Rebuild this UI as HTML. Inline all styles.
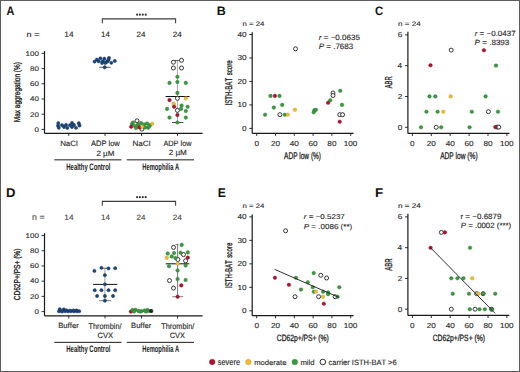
<!DOCTYPE html>
<html><head><meta charset="utf-8"><style>
html,body{margin:0;padding:0;background:#fff;}
svg{display:block;}
text{font-family:"Liberation Sans", sans-serif;text-rendering:geometricPrecision;font-kerning:none;}
</style></head><body>
<svg width="520" height="372" viewBox="0 0 520 372">
<rect x="0.5" y="0.5" width="519" height="371" fill="#fff" stroke="#5c5c5c" stroke-width="1"/>
<text font-size="100" font-weight="bold" fill="#111" transform="translate(6.58,14.50) scale(0.10806,0.12282)">A</text>
<text font-size="100" font-weight="bold" fill="#111" transform="translate(216.87,14.90) scale(0.12462,0.12210)">B</text>
<text font-size="100" font-weight="bold" fill="#111" transform="translate(375.04,14.78) scale(0.11318,0.12288)">C</text>
<text font-size="100" font-weight="bold" fill="#111" transform="translate(6.03,196.90) scale(0.13045,0.12791)">D</text>
<text font-size="100" font-weight="bold" fill="#111" transform="translate(217.69,196.90) scale(0.12120,0.12791)">E</text>
<text font-size="100" font-weight="bold" fill="#111" transform="translate(375.00,196.90) scale(0.13404,0.12791)">F</text>
<path d="M102.3,23.3 V18.85 H175.6 V23.3" fill="none" stroke="#3c3c3c" stroke-width="1.05"/>
<circle cx="137.1" cy="14.65" r="1.05" fill="#333"/>
<circle cx="139.9" cy="14.65" r="1.05" fill="#333"/>
<circle cx="142.8" cy="14.65" r="1.05" fill="#333"/>
<circle cx="145.7" cy="14.65" r="1.05" fill="#333"/>
<text font-size="100" fill="#2a2a2a" stroke="#2a2a2a" stroke-width="1.55" transform="translate(26.60,37.10) scale(0.09061,0.07805)">n =</text>
<text font-size="100" fill="#2a2a2a" stroke="#2a2a2a" stroke-width="1.68" transform="translate(64.36,37.10) scale(0.08343,0.07776)">14</text>
<text font-size="100" fill="#2a2a2a" stroke="#2a2a2a" stroke-width="1.76" transform="translate(100.99,37.10) scale(0.07946,0.07776)">14</text>
<text font-size="100" fill="#2a2a2a" stroke="#2a2a2a" stroke-width="1.74" transform="translate(136.60,37.10) scale(0.08037,0.07662)">24</text>
<text font-size="100" fill="#2a2a2a" stroke="#2a2a2a" stroke-width="1.70" transform="translate(172.79,37.10) scale(0.08231,0.07662)">24</text>
<line x1="44.5" y1="51.0" x2="44.5" y2="133.3" stroke="#1a1a1a" stroke-width="1.2"/>
<line x1="41.6" y1="53.4" x2="44.5" y2="53.4" stroke="#1a1a1a" stroke-width="0.9"/>
<text font-size="100" fill="#2a2a2a" stroke="#2a2a2a" stroke-width="1.75" transform="translate(25.59,55.73) scale(0.07983,0.06780)">100</text>
<line x1="41.6" y1="68.6" x2="44.5" y2="68.6" stroke="#1a1a1a" stroke-width="0.9"/>
<text font-size="100" fill="#2a2a2a" stroke="#2a2a2a" stroke-width="1.75" transform="translate(30.03,70.93) scale(0.07983,0.06780)">80</text>
<line x1="41.6" y1="83.8" x2="44.5" y2="83.8" stroke="#1a1a1a" stroke-width="0.9"/>
<text font-size="100" fill="#2a2a2a" stroke="#2a2a2a" stroke-width="1.75" transform="translate(30.03,86.13) scale(0.07983,0.06780)">60</text>
<line x1="41.6" y1="99.0" x2="44.5" y2="99.0" stroke="#1a1a1a" stroke-width="0.9"/>
<text font-size="100" fill="#2a2a2a" stroke="#2a2a2a" stroke-width="1.75" transform="translate(30.03,101.33) scale(0.07983,0.06780)">40</text>
<line x1="41.6" y1="114.19999999999999" x2="44.5" y2="114.19999999999999" stroke="#1a1a1a" stroke-width="0.9"/>
<text font-size="100" fill="#2a2a2a" stroke="#2a2a2a" stroke-width="1.75" transform="translate(30.03,116.53) scale(0.07983,0.06780)">20</text>
<line x1="41.6" y1="129.4" x2="44.5" y2="129.4" stroke="#1a1a1a" stroke-width="0.9"/>
<text font-size="100" fill="#2a2a2a" stroke="#2a2a2a" stroke-width="1.75" transform="translate(34.47,131.73) scale(0.07983,0.06780)">0</text>
<line x1="44.5" y1="133.3" x2="202.6" y2="133.3" stroke="#1a1a1a" stroke-width="1.2"/>
<line x1="68.75" y1="133.3" x2="68.75" y2="135.9" stroke="#1a1a1a" stroke-width="0.9"/>
<line x1="105" y1="133.3" x2="105" y2="135.9" stroke="#1a1a1a" stroke-width="0.9"/>
<line x1="141.5" y1="133.3" x2="141.5" y2="135.9" stroke="#1a1a1a" stroke-width="0.9"/>
<line x1="177.5" y1="133.3" x2="177.5" y2="135.9" stroke="#1a1a1a" stroke-width="0.9"/>
<text font-size="100" fill="#2a2a2a" stroke="#2a2a2a" stroke-width="1.77" transform="translate(60.15,145.93) scale(0.07908,0.07626)">NaCl</text>
<text font-size="100" fill="#2a2a2a" stroke="#2a2a2a" stroke-width="1.77" transform="translate(90.99,145.92) scale(0.07510,0.07898)">ADP low</text>
<text font-size="100" fill="#2a2a2a" stroke="#2a2a2a" stroke-width="1.75" transform="translate(96.40,155.60) scale(0.08006,0.07734)">2 µM</text>
<text font-size="100" fill="#2a2a2a" stroke="#2a2a2a" stroke-width="1.73" transform="translate(132.44,146.03) scale(0.08101,0.07489)">NaCl</text>
<text font-size="100" fill="#2a2a2a" stroke="#2a2a2a" stroke-width="1.80" transform="translate(163.39,146.02) scale(0.07353,0.07762)">ADP low</text>
<text font-size="100" fill="#2a2a2a" stroke="#2a2a2a" stroke-width="1.73" transform="translate(168.69,155.30) scale(0.08101,0.07734)">2 µM</text>
<line x1="54.3" y1="159.85" x2="121.5" y2="159.85" stroke="#1a1a1a" stroke-width="1.0"/>
<line x1="126.8" y1="159.85" x2="194" y2="159.85" stroke="#1a1a1a" stroke-width="1.0"/>
<text font-size="100" font-weight="bold" fill="#222" transform="translate(66.30,169.94) scale(0.05926,0.09441)">Healthy Control</text>
<text font-size="100" font-weight="bold" fill="#222" transform="translate(142.31,169.94) scale(0.05781,0.09441)">Hemophilia A</text>
<text font-size="100" fill="#222" stroke="#222" stroke-width="3.85" transform="translate(19.72,122.23) rotate(-90) scale(0.06478,0.08583)">Max aggregation (%)</text>
<path d="M102.3,205.8 V201.35 H175.6 V205.8" fill="none" stroke="#3c3c3c" stroke-width="1.05"/>
<circle cx="137.1" cy="197.15" r="1.05" fill="#333"/>
<circle cx="139.9" cy="197.15" r="1.05" fill="#333"/>
<circle cx="142.8" cy="197.15" r="1.05" fill="#333"/>
<circle cx="145.7" cy="197.15" r="1.05" fill="#333"/>
<text font-size="100" fill="#4a4a4a" stroke="#4a4a4a" stroke-width="1.59" transform="translate(32.11,219.70) scale(0.08831,0.08735)">n =</text>
<text font-size="100" fill="#4a4a4a" stroke="#4a4a4a" stroke-width="1.68" transform="translate(64.36,219.60) scale(0.08343,0.07776)">14</text>
<text font-size="100" fill="#4a4a4a" stroke="#4a4a4a" stroke-width="1.76" transform="translate(100.99,219.60) scale(0.07946,0.07776)">14</text>
<text font-size="100" fill="#4a4a4a" stroke="#4a4a4a" stroke-width="1.74" transform="translate(136.60,219.60) scale(0.08037,0.07662)">24</text>
<text font-size="100" fill="#4a4a4a" stroke="#4a4a4a" stroke-width="1.70" transform="translate(172.79,219.60) scale(0.08231,0.07662)">24</text>
<line x1="44.5" y1="233.1" x2="44.5" y2="315.8" stroke="#1a1a1a" stroke-width="1.2"/>
<line x1="41.6" y1="235.5" x2="44.5" y2="235.5" stroke="#1a1a1a" stroke-width="0.9"/>
<text font-size="100" fill="#2a2a2a" stroke="#2a2a2a" stroke-width="1.75" transform="translate(25.59,237.83) scale(0.07983,0.06780)">100</text>
<line x1="41.6" y1="250.72" x2="44.5" y2="250.72" stroke="#1a1a1a" stroke-width="0.9"/>
<text font-size="100" fill="#2a2a2a" stroke="#2a2a2a" stroke-width="1.75" transform="translate(30.03,253.05) scale(0.07983,0.06780)">80</text>
<line x1="41.6" y1="265.94" x2="44.5" y2="265.94" stroke="#1a1a1a" stroke-width="0.9"/>
<text font-size="100" fill="#2a2a2a" stroke="#2a2a2a" stroke-width="1.75" transform="translate(30.03,268.27) scale(0.07983,0.06780)">60</text>
<line x1="41.6" y1="281.16" x2="44.5" y2="281.16" stroke="#1a1a1a" stroke-width="0.9"/>
<text font-size="100" fill="#2a2a2a" stroke="#2a2a2a" stroke-width="1.75" transform="translate(30.03,283.49) scale(0.07983,0.06780)">40</text>
<line x1="41.6" y1="296.38" x2="44.5" y2="296.38" stroke="#1a1a1a" stroke-width="0.9"/>
<text font-size="100" fill="#2a2a2a" stroke="#2a2a2a" stroke-width="1.75" transform="translate(30.03,298.71) scale(0.07983,0.06780)">20</text>
<line x1="41.6" y1="311.6" x2="44.5" y2="311.6" stroke="#1a1a1a" stroke-width="0.9"/>
<text font-size="100" fill="#2a2a2a" stroke="#2a2a2a" stroke-width="1.75" transform="translate(34.47,313.93) scale(0.07983,0.06780)">0</text>
<line x1="44.5" y1="315.8" x2="202.6" y2="315.8" stroke="#1a1a1a" stroke-width="1.2"/>
<line x1="68.75" y1="315.8" x2="68.75" y2="318.4" stroke="#1a1a1a" stroke-width="0.9"/>
<line x1="105" y1="315.8" x2="105" y2="318.4" stroke="#1a1a1a" stroke-width="0.9"/>
<line x1="141.5" y1="315.8" x2="141.5" y2="318.4" stroke="#1a1a1a" stroke-width="0.9"/>
<line x1="177.5" y1="315.8" x2="177.5" y2="318.4" stroke="#1a1a1a" stroke-width="0.9"/>
<text font-size="100" fill="#2a2a2a" stroke="#2a2a2a" stroke-width="1.82" transform="translate(58.17,328.43) scale(0.07706,0.07499)">Buffer</text>
<text font-size="100" fill="#2a2a2a" stroke="#2a2a2a" stroke-width="1.69" transform="translate(88.43,328.72) scale(0.07368,0.08306)">Thrombin/</text>
<text font-size="100" fill="#2a2a2a" stroke="#2a2a2a" stroke-width="1.80" transform="translate(97.41,337.52) scale(0.07609,0.07768)">CVX</text>
<text font-size="100" fill="#2a2a2a" stroke="#2a2a2a" stroke-width="1.84" transform="translate(131.08,328.43) scale(0.07590,0.07499)">Buffer</text>
<text font-size="100" fill="#2a2a2a" stroke="#2a2a2a" stroke-width="1.69" transform="translate(161.13,328.72) scale(0.07368,0.08306)">Thrombin/</text>
<text font-size="100" fill="#2a2a2a" stroke="#2a2a2a" stroke-width="1.80" transform="translate(169.72,337.52) scale(0.07458,0.07768)">CVX</text>
<line x1="54.3" y1="342.35" x2="121.5" y2="342.35" stroke="#1a1a1a" stroke-width="1.0"/>
<line x1="126.8" y1="342.35" x2="194" y2="342.35" stroke="#1a1a1a" stroke-width="1.0"/>
<text font-size="100" font-weight="bold" fill="#222" transform="translate(66.30,352.44) scale(0.05926,0.09441)">Healthy Control</text>
<text font-size="100" font-weight="bold" fill="#222" transform="translate(142.31,352.44) scale(0.05781,0.09441)">Hemophilia A</text>
<text font-size="100" fill="#222" stroke="#222" stroke-width="3.84" transform="translate(19.62,300.34) rotate(-90) scale(0.06603,0.08587)">CD62P+/PS+ (%)</text>
<line x1="104.7" y1="60" x2="104.7" y2="67.3" stroke="#777" stroke-width="0.8"/>
<line x1="99.2" y1="67.3" x2="110.8" y2="67.3" stroke="#333" stroke-width="0.8"/>
<line x1="177.4" y1="60.6" x2="177.4" y2="122.5" stroke="#888" stroke-width="0.7"/>
<line x1="173.5" y1="60.6" x2="181.3" y2="60.6" stroke="#333" stroke-width="0.8"/>
<line x1="172" y1="122.5" x2="183.4" y2="122.5" stroke="#333" stroke-width="0.9"/>
<line x1="165.6" y1="96.5" x2="189.5" y2="96.5" stroke="#111" stroke-width="1.0"/>
<line x1="104.9" y1="268.2" x2="104.9" y2="300.7" stroke="#888" stroke-width="0.8"/>
<line x1="101.4" y1="268.2" x2="108.5" y2="268.2" stroke="#444" stroke-width="0.8"/>
<line x1="99.1" y1="300.7" x2="111.2" y2="300.7" stroke="#555" stroke-width="0.8"/>
<line x1="93.1" y1="284.4" x2="117.3" y2="284.4" stroke="#111" stroke-width="1.0"/>
<line x1="177.6" y1="244.7" x2="177.6" y2="296.7" stroke="#555" stroke-width="0.8"/>
<line x1="175.4" y1="244.7" x2="178.6" y2="244.7" stroke="#555" stroke-width="0.8"/>
<line x1="172.2" y1="296.7" x2="183.2" y2="296.7" stroke="#777" stroke-width="0.9"/>
<line x1="165.8" y1="263.8" x2="189.4" y2="263.8" stroke="#111" stroke-width="1.0"/>
<text font-size="100" fill="#2a2a2a" stroke="#2a2a2a" stroke-width="1.79" transform="translate(242.48,25.60) scale(0.07816,0.06588)">n = 24</text>
<line x1="252.2" y1="32.2" x2="252.2" y2="133.3" stroke="#1a1a1a" stroke-width="1.2"/>
<line x1="249.3" y1="34.5" x2="252.2" y2="34.5" stroke="#1a1a1a" stroke-width="0.9"/>
<text font-size="100" fill="#2a2a2a" stroke="#2a2a2a" stroke-width="1.70" transform="translate(237.39,36.98) scale(0.08212,0.07203)">40</text>
<line x1="249.3" y1="57.975" x2="252.2" y2="57.975" stroke="#1a1a1a" stroke-width="0.9"/>
<text font-size="100" fill="#2a2a2a" stroke="#2a2a2a" stroke-width="1.70" transform="translate(237.39,60.45) scale(0.08212,0.07203)">30</text>
<line x1="249.3" y1="81.45" x2="252.2" y2="81.45" stroke="#1a1a1a" stroke-width="0.9"/>
<text font-size="100" fill="#2a2a2a" stroke="#2a2a2a" stroke-width="1.70" transform="translate(237.39,83.93) scale(0.08212,0.07203)">20</text>
<line x1="249.3" y1="104.92500000000001" x2="252.2" y2="104.92500000000001" stroke="#1a1a1a" stroke-width="0.9"/>
<text font-size="100" fill="#2a2a2a" stroke="#2a2a2a" stroke-width="1.70" transform="translate(237.39,107.40) scale(0.08212,0.07203)">10</text>
<line x1="249.3" y1="128.4" x2="252.2" y2="128.4" stroke="#1a1a1a" stroke-width="0.9"/>
<text font-size="100" fill="#2a2a2a" stroke="#2a2a2a" stroke-width="1.70" transform="translate(241.95,130.88) scale(0.08212,0.07203)">0</text>
<line x1="252.2" y1="133.3" x2="353.6" y2="133.3" stroke="#1a1a1a" stroke-width="1.2"/>
<line x1="256.7" y1="133.3" x2="256.7" y2="135.9" stroke="#1a1a1a" stroke-width="0.9"/>
<text font-size="100" fill="#2a2a2a" stroke="#2a2a2a" stroke-width="1.70" transform="translate(254.42,145.83) scale(0.08212,0.07203)">0</text>
<line x1="275.5" y1="133.3" x2="275.5" y2="135.9" stroke="#1a1a1a" stroke-width="0.9"/>
<text font-size="100" fill="#2a2a2a" stroke="#2a2a2a" stroke-width="1.70" transform="translate(270.89,145.83) scale(0.08212,0.07203)">20</text>
<line x1="294.3" y1="133.3" x2="294.3" y2="135.9" stroke="#1a1a1a" stroke-width="0.9"/>
<text font-size="100" fill="#2a2a2a" stroke="#2a2a2a" stroke-width="1.70" transform="translate(289.80,145.83) scale(0.08212,0.07203)">40</text>
<line x1="313.1" y1="133.3" x2="313.1" y2="135.9" stroke="#1a1a1a" stroke-width="0.9"/>
<text font-size="100" fill="#2a2a2a" stroke="#2a2a2a" stroke-width="1.70" transform="translate(308.49,145.83) scale(0.08212,0.07203)">60</text>
<line x1="331.9" y1="133.3" x2="331.9" y2="135.9" stroke="#1a1a1a" stroke-width="0.9"/>
<text font-size="100" fill="#2a2a2a" stroke="#2a2a2a" stroke-width="1.70" transform="translate(327.32,145.83) scale(0.08212,0.07203)">80</text>
<line x1="350.7" y1="133.3" x2="350.7" y2="135.9" stroke="#1a1a1a" stroke-width="0.9"/>
<text font-size="100" fill="#2a2a2a" stroke="#2a2a2a" stroke-width="1.70" transform="translate(343.70,145.83) scale(0.08212,0.07203)">100</text>
<text font-size="100" fill="#222" stroke="#222" stroke-width="2.90" transform="translate(284.09,158.61) scale(0.06514,0.09668)">ADP low (%)</text>
<text font-size="100" fill="#222" stroke="#222" stroke-width="3.39" transform="translate(231.70,105.56) rotate(-90) scale(0.06080,0.09746)">ISTH-BAT</text>
<text font-size="100" fill="#222" stroke="#222" stroke-width="3.85" transform="translate(231.72,75.37) rotate(-90) scale(0.06195,0.08579)">score</text>
<text font-size="100" fill="#2a2a2a" stroke="#2a2a2a" stroke-width="1.75" transform="translate(318.87,39.73) scale(0.08009,0.07627)"><tspan font-style="italic">r</tspan> = −0.0635</text>
<text font-size="100" fill="#2a2a2a" stroke="#2a2a2a" stroke-width="1.75" transform="translate(318.75,48.52) scale(0.07982,0.07768)"><tspan font-style="italic">P</tspan> = .7683</text>
<text font-size="100" fill="#2a2a2a" stroke="#2a2a2a" stroke-width="1.79" transform="translate(242.48,208.00) scale(0.07816,0.06588)">n = 24</text>
<line x1="252.2" y1="214.60000000000002" x2="252.2" y2="315.70000000000005" stroke="#1a1a1a" stroke-width="1.2"/>
<line x1="249.3" y1="216.9" x2="252.2" y2="216.9" stroke="#1a1a1a" stroke-width="0.9"/>
<text font-size="100" fill="#2a2a2a" stroke="#2a2a2a" stroke-width="1.70" transform="translate(237.39,219.38) scale(0.08212,0.07203)">40</text>
<line x1="249.3" y1="240.375" x2="252.2" y2="240.375" stroke="#1a1a1a" stroke-width="0.9"/>
<text font-size="100" fill="#2a2a2a" stroke="#2a2a2a" stroke-width="1.70" transform="translate(237.39,242.85) scale(0.08212,0.07203)">30</text>
<line x1="249.3" y1="263.85" x2="252.2" y2="263.85" stroke="#1a1a1a" stroke-width="0.9"/>
<text font-size="100" fill="#2a2a2a" stroke="#2a2a2a" stroke-width="1.70" transform="translate(237.39,266.33) scale(0.08212,0.07203)">20</text>
<line x1="249.3" y1="287.32500000000005" x2="252.2" y2="287.32500000000005" stroke="#1a1a1a" stroke-width="0.9"/>
<text font-size="100" fill="#2a2a2a" stroke="#2a2a2a" stroke-width="1.70" transform="translate(237.39,289.80) scale(0.08212,0.07203)">10</text>
<line x1="249.3" y1="310.8" x2="252.2" y2="310.8" stroke="#1a1a1a" stroke-width="0.9"/>
<text font-size="100" fill="#2a2a2a" stroke="#2a2a2a" stroke-width="1.70" transform="translate(241.95,313.28) scale(0.08212,0.07203)">0</text>
<line x1="252.2" y1="315.70000000000005" x2="353.6" y2="315.70000000000005" stroke="#1a1a1a" stroke-width="1.2"/>
<line x1="256.7" y1="315.70000000000005" x2="256.7" y2="318.3" stroke="#1a1a1a" stroke-width="0.9"/>
<text font-size="100" fill="#2a2a2a" stroke="#2a2a2a" stroke-width="1.70" transform="translate(254.42,328.23) scale(0.08212,0.07203)">0</text>
<line x1="275.5" y1="315.70000000000005" x2="275.5" y2="318.3" stroke="#1a1a1a" stroke-width="0.9"/>
<text font-size="100" fill="#2a2a2a" stroke="#2a2a2a" stroke-width="1.70" transform="translate(270.89,328.23) scale(0.08212,0.07203)">20</text>
<line x1="294.3" y1="315.70000000000005" x2="294.3" y2="318.3" stroke="#1a1a1a" stroke-width="0.9"/>
<text font-size="100" fill="#2a2a2a" stroke="#2a2a2a" stroke-width="1.70" transform="translate(289.80,328.23) scale(0.08212,0.07203)">40</text>
<line x1="313.1" y1="315.70000000000005" x2="313.1" y2="318.3" stroke="#1a1a1a" stroke-width="0.9"/>
<text font-size="100" fill="#2a2a2a" stroke="#2a2a2a" stroke-width="1.70" transform="translate(308.49,328.23) scale(0.08212,0.07203)">60</text>
<line x1="331.9" y1="315.70000000000005" x2="331.9" y2="318.3" stroke="#1a1a1a" stroke-width="0.9"/>
<text font-size="100" fill="#2a2a2a" stroke="#2a2a2a" stroke-width="1.70" transform="translate(327.32,328.23) scale(0.08212,0.07203)">80</text>
<line x1="350.7" y1="315.70000000000005" x2="350.7" y2="318.3" stroke="#1a1a1a" stroke-width="0.9"/>
<text font-size="100" fill="#2a2a2a" stroke="#2a2a2a" stroke-width="1.70" transform="translate(343.70,328.23) scale(0.08212,0.07203)">100</text>
<text font-size="100" fill="#222" stroke="#222" stroke-width="3.09" transform="translate(276.86,340.62) scale(0.06726,0.09053)">CD62p+/PS+ (%)</text>
<text font-size="100" fill="#222" stroke="#222" stroke-width="3.39" transform="translate(231.70,287.96) rotate(-90) scale(0.06080,0.09746)">ISTH-BAT</text>
<text font-size="100" fill="#222" stroke="#222" stroke-width="3.85" transform="translate(231.72,257.77) rotate(-90) scale(0.06195,0.08579)">score</text>
<text font-size="100" fill="#2a2a2a" stroke="#2a2a2a" stroke-width="1.75" transform="translate(303.87,219.03) scale(0.08003,0.06921)"><tspan font-style="italic">r</tspan> = −0.5237</text>
<text font-size="100" fill="#2a2a2a" stroke="#2a2a2a" stroke-width="1.74" transform="translate(303.75,228.53) scale(0.08030,0.07203)"><tspan font-style="italic">P</tspan> = .0086 (**)</text>
<text font-size="100" fill="#2a2a2a" stroke="#2a2a2a" stroke-width="1.73" transform="translate(397.96,25.60) scale(0.08111,0.06588)">n = 24</text>
<line x1="407.9" y1="31.8" x2="407.9" y2="133.4" stroke="#1a1a1a" stroke-width="1.2"/>
<line x1="405" y1="34.89999999999999" x2="407.9" y2="34.89999999999999" stroke="#1a1a1a" stroke-width="0.9"/>
<text font-size="100" fill="#2a2a2a" stroke="#2a2a2a" stroke-width="1.70" transform="translate(397.69,37.38) scale(0.08212,0.07203)">6</text>
<line x1="405" y1="65.69999999999999" x2="407.9" y2="65.69999999999999" stroke="#1a1a1a" stroke-width="0.9"/>
<text font-size="100" fill="#2a2a2a" stroke="#2a2a2a" stroke-width="1.70" transform="translate(397.57,68.18) scale(0.08212,0.07203)">4</text>
<line x1="405" y1="96.5" x2="407.9" y2="96.5" stroke="#1a1a1a" stroke-width="0.9"/>
<text font-size="100" fill="#2a2a2a" stroke="#2a2a2a" stroke-width="1.70" transform="translate(397.75,99.01) scale(0.08212,0.07203)">2</text>
<line x1="405" y1="127.3" x2="407.9" y2="127.3" stroke="#1a1a1a" stroke-width="0.9"/>
<text font-size="100" fill="#2a2a2a" stroke="#2a2a2a" stroke-width="1.70" transform="translate(397.65,129.78) scale(0.08212,0.07203)">0</text>
<line x1="407.9" y1="133.4" x2="509.4" y2="133.4" stroke="#1a1a1a" stroke-width="1.2"/>
<line x1="412.4" y1="133.4" x2="412.4" y2="136" stroke="#1a1a1a" stroke-width="0.9"/>
<text font-size="100" fill="#2a2a2a" stroke="#2a2a2a" stroke-width="1.70" transform="translate(410.12,145.83) scale(0.08212,0.07203)">0</text>
<line x1="431.29999999999995" y1="133.4" x2="431.29999999999995" y2="136" stroke="#1a1a1a" stroke-width="0.9"/>
<text font-size="100" fill="#2a2a2a" stroke="#2a2a2a" stroke-width="1.70" transform="translate(426.69,145.83) scale(0.08212,0.07203)">20</text>
<line x1="450.2" y1="133.4" x2="450.2" y2="136" stroke="#1a1a1a" stroke-width="0.9"/>
<text font-size="100" fill="#2a2a2a" stroke="#2a2a2a" stroke-width="1.70" transform="translate(445.70,145.83) scale(0.08212,0.07203)">40</text>
<line x1="469.09999999999997" y1="133.4" x2="469.09999999999997" y2="136" stroke="#1a1a1a" stroke-width="0.9"/>
<text font-size="100" fill="#2a2a2a" stroke="#2a2a2a" stroke-width="1.70" transform="translate(464.49,145.83) scale(0.08212,0.07203)">60</text>
<line x1="488.0" y1="133.4" x2="488.0" y2="136" stroke="#1a1a1a" stroke-width="0.9"/>
<text font-size="100" fill="#2a2a2a" stroke="#2a2a2a" stroke-width="1.70" transform="translate(483.42,145.83) scale(0.08212,0.07203)">80</text>
<line x1="506.9" y1="133.4" x2="506.9" y2="136" stroke="#1a1a1a" stroke-width="0.9"/>
<text font-size="100" fill="#2a2a2a" stroke="#2a2a2a" stroke-width="1.70" transform="translate(499.90,145.83) scale(0.08212,0.07203)">100</text>
<text font-size="100" fill="#222" stroke="#222" stroke-width="2.90" transform="translate(440.19,158.61) scale(0.06603,0.09668)">ADP low (%)</text>
<text font-size="100" fill="#222" stroke="#222" stroke-width="3.29" transform="translate(392.20,88.31) rotate(-90) scale(0.05827,0.10029)">ABR</text>
<text font-size="100" fill="#2a2a2a" stroke="#2a2a2a" stroke-width="1.75" transform="translate(474.67,35.83) scale(0.08022,0.07486)"><tspan font-style="italic">r</tspan> = −0.0437</text>
<text font-size="100" fill="#2a2a2a" stroke="#2a2a2a" stroke-width="1.73" transform="translate(474.55,44.63) scale(0.08077,0.07486)"><tspan font-style="italic">P</tspan> = .8393</text>
<text font-size="100" fill="#2a2a2a" stroke="#2a2a2a" stroke-width="1.73" transform="translate(397.96,208.10) scale(0.08111,0.06731)">n = 24</text>
<line x1="407.9" y1="213.8" x2="407.9" y2="315.4" stroke="#1a1a1a" stroke-width="1.2"/>
<line x1="405" y1="216.9" x2="407.9" y2="216.9" stroke="#1a1a1a" stroke-width="0.9"/>
<text font-size="100" fill="#2a2a2a" stroke="#2a2a2a" stroke-width="1.70" transform="translate(397.69,219.38) scale(0.08212,0.07203)">6</text>
<line x1="405" y1="247.66666666666666" x2="407.9" y2="247.66666666666666" stroke="#1a1a1a" stroke-width="0.9"/>
<text font-size="100" fill="#2a2a2a" stroke="#2a2a2a" stroke-width="1.70" transform="translate(397.57,250.14) scale(0.08212,0.07203)">4</text>
<line x1="405" y1="278.43333333333334" x2="407.9" y2="278.43333333333334" stroke="#1a1a1a" stroke-width="0.9"/>
<text font-size="100" fill="#2a2a2a" stroke="#2a2a2a" stroke-width="1.70" transform="translate(397.75,280.95) scale(0.08212,0.07203)">2</text>
<line x1="405" y1="309.2" x2="407.9" y2="309.2" stroke="#1a1a1a" stroke-width="0.9"/>
<text font-size="100" fill="#2a2a2a" stroke="#2a2a2a" stroke-width="1.70" transform="translate(397.65,311.68) scale(0.08212,0.07203)">0</text>
<line x1="407.9" y1="315.4" x2="509.4" y2="315.4" stroke="#1a1a1a" stroke-width="1.2"/>
<line x1="412.4" y1="315.4" x2="412.4" y2="318" stroke="#1a1a1a" stroke-width="0.9"/>
<text font-size="100" fill="#2a2a2a" stroke="#2a2a2a" stroke-width="1.70" transform="translate(410.12,327.83) scale(0.08212,0.07203)">0</text>
<line x1="431.29999999999995" y1="315.4" x2="431.29999999999995" y2="318" stroke="#1a1a1a" stroke-width="0.9"/>
<text font-size="100" fill="#2a2a2a" stroke="#2a2a2a" stroke-width="1.70" transform="translate(426.69,327.83) scale(0.08212,0.07203)">20</text>
<line x1="450.2" y1="315.4" x2="450.2" y2="318" stroke="#1a1a1a" stroke-width="0.9"/>
<text font-size="100" fill="#2a2a2a" stroke="#2a2a2a" stroke-width="1.70" transform="translate(445.70,327.83) scale(0.08212,0.07203)">40</text>
<line x1="469.09999999999997" y1="315.4" x2="469.09999999999997" y2="318" stroke="#1a1a1a" stroke-width="0.9"/>
<text font-size="100" fill="#2a2a2a" stroke="#2a2a2a" stroke-width="1.70" transform="translate(464.49,327.83) scale(0.08212,0.07203)">60</text>
<line x1="488.0" y1="315.4" x2="488.0" y2="318" stroke="#1a1a1a" stroke-width="0.9"/>
<text font-size="100" fill="#2a2a2a" stroke="#2a2a2a" stroke-width="1.70" transform="translate(483.42,327.83) scale(0.08212,0.07203)">80</text>
<line x1="506.9" y1="315.4" x2="506.9" y2="318" stroke="#1a1a1a" stroke-width="0.9"/>
<text font-size="100" fill="#2a2a2a" stroke="#2a2a2a" stroke-width="1.70" transform="translate(499.90,327.83) scale(0.08212,0.07203)">100</text>
<text font-size="100" fill="#222" stroke="#222" stroke-width="3.09" transform="translate(432.66,340.62) scale(0.06778,0.09053)">CD62p+/PS+ (%)</text>
<text font-size="100" fill="#222" stroke="#222" stroke-width="3.29" transform="translate(392.20,270.71) rotate(-90) scale(0.06026,0.10029)">ABR</text>
<text font-size="100" fill="#2a2a2a" stroke="#2a2a2a" stroke-width="1.75" transform="translate(460.47,219.03) scale(0.08018,0.07627)">r = −0.6879</text>
<text font-size="100" fill="#2a2a2a" stroke="#2a2a2a" stroke-width="1.78" transform="translate(460.76,228.23) scale(0.07852,0.07627)"><tspan font-style="italic">P</tspan> = .0002 (***)</text>
<text font-size="100" fill="#2a2a2a" stroke="#2a2a2a" stroke-width="1.60" transform="translate(217.69,364.51) scale(0.07442,0.08761)">severe</text>
<text font-size="100" fill="#2a2a2a" stroke="#2a2a2a" stroke-width="1.83" transform="translate(254.19,364.53) scale(0.07633,0.07489)">moderate</text>
<text font-size="100" fill="#2a2a2a" stroke="#2a2a2a" stroke-width="1.82" transform="translate(300.39,364.53) scale(0.07694,0.07489)">mild</text>
<text font-size="100" fill="#2a2a2a" stroke="#2a2a2a" stroke-width="1.80" transform="translate(328.48,364.52) scale(0.07501,0.07762)">carrier ISTH-BAT &gt;6</text>
<circle cx="137" cy="120.8" r="2.0" fill="#fff" stroke="#151515" stroke-width="0.85"/>
<circle cx="141.9" cy="129.1" r="2.0" fill="#fff" stroke="#151515" stroke-width="0.85"/>
<circle cx="173.4" cy="62.2" r="2.0" fill="#fff" stroke="#151515" stroke-width="0.85"/>
<circle cx="181.5" cy="60.3" r="2.0" fill="#fff" stroke="#151515" stroke-width="0.85"/>
<circle cx="173.4" cy="68" r="2.0" fill="#fff" stroke="#151515" stroke-width="0.85"/>
<circle cx="181.5" cy="68" r="2.0" fill="#fff" stroke="#151515" stroke-width="0.85"/>
<circle cx="177.4" cy="98.3" r="2.0" fill="#fff" stroke="#151515" stroke-width="0.85"/>
<circle cx="177.4" cy="110.4" r="2.0" fill="#fff" stroke="#151515" stroke-width="0.85"/>
<circle cx="130.9" cy="311.6" r="1.8" fill="#b0112e" stroke="#7d0a20" stroke-width="0.4"/>
<circle cx="173.5" cy="247.4" r="2.0" fill="#fff" stroke="#151515" stroke-width="0.85"/>
<circle cx="183.5" cy="254.6" r="2.0" fill="#fff" stroke="#151515" stroke-width="0.85"/>
<circle cx="177.9" cy="259.5" r="2.0" fill="#fff" stroke="#151515" stroke-width="0.85"/>
<circle cx="185.6" cy="260.8" r="2.0" fill="#fff" stroke="#151515" stroke-width="0.85"/>
<circle cx="169.5" cy="280.6" r="2.0" fill="#fff" stroke="#151515" stroke-width="0.85"/>
<circle cx="173.5" cy="288.1" r="2.0" fill="#fff" stroke="#151515" stroke-width="0.85"/>
<circle cx="279.9" cy="114.7" r="2.0" fill="#fff" stroke="#151515" stroke-width="0.85"/>
<circle cx="295.5" cy="48.8" r="2.0" fill="#fff" stroke="#151515" stroke-width="0.85"/>
<circle cx="333" cy="93" r="2.0" fill="#fff" stroke="#151515" stroke-width="0.85"/>
<circle cx="333" cy="95.5" r="2.0" fill="#fff" stroke="#151515" stroke-width="0.85"/>
<circle cx="339.7" cy="114.7" r="2.0" fill="#fff" stroke="#151515" stroke-width="0.85"/>
<circle cx="342.6" cy="114.7" r="2.0" fill="#fff" stroke="#151515" stroke-width="0.85"/>
<circle cx="285.6" cy="230.8" r="2.0" fill="#fff" stroke="#151515" stroke-width="0.85"/>
<circle cx="295" cy="296.7" r="2.0" fill="#fff" stroke="#151515" stroke-width="0.85"/>
<circle cx="320.8" cy="275.3" r="2.0" fill="#fff" stroke="#151515" stroke-width="0.85"/>
<circle cx="326.6" cy="278" r="2.0" fill="#fff" stroke="#151515" stroke-width="0.85"/>
<circle cx="318.6" cy="296.7" r="2.0" fill="#fff" stroke="#151515" stroke-width="0.85"/>
<circle cx="335.1" cy="296.7" r="2.0" fill="#fff" stroke="#151515" stroke-width="0.85"/>
<circle cx="451.2" cy="50.1" r="2.0" fill="#fff" stroke="#151515" stroke-width="0.85"/>
<circle cx="488.4" cy="111.7" r="2.0" fill="#fff" stroke="#151515" stroke-width="0.85"/>
<circle cx="436.2" cy="127.3" r="2.0" fill="#fff" stroke="#151515" stroke-width="0.85"/>
<circle cx="497.3" cy="127.1" r="2.0" fill="#fff" stroke="#151515" stroke-width="0.85"/>
<circle cx="498.8" cy="127.1" r="2.0" fill="#fff" stroke="#151515" stroke-width="0.85"/>
<circle cx="441.4" cy="232.4" r="2.0" fill="#fff" stroke="#151515" stroke-width="0.85"/>
<circle cx="476.7" cy="293.7" r="2.0" fill="#fff" stroke="#151515" stroke-width="0.85"/>
<circle cx="483.1" cy="293.7" r="2.0" fill="#fff" stroke="#151515" stroke-width="0.85"/>
<circle cx="451.3" cy="309.2" r="2.0" fill="#fff" stroke="#151515" stroke-width="0.85"/>
<circle cx="475.1" cy="309.2" r="2.0" fill="#fff" stroke="#151515" stroke-width="0.85"/>
<circle cx="491.6" cy="309.2" r="2.0" fill="#fff" stroke="#151515" stroke-width="0.85"/>
<circle cx="322.8" cy="362" r="2.8" fill="#fff" stroke="#222" stroke-width="0.95"/>
<circle cx="58.3" cy="123.1" r="1.6500000000000001" fill="#1b4679" stroke="#0d2c55" stroke-width="0.4"/>
<circle cx="72" cy="122.9" r="1.6500000000000001" fill="#1b4679" stroke="#0d2c55" stroke-width="0.4"/>
<circle cx="78.8" cy="123.2" r="1.6500000000000001" fill="#1b4679" stroke="#0d2c55" stroke-width="0.4"/>
<circle cx="58" cy="125.7" r="1.6500000000000001" fill="#1b4679" stroke="#0d2c55" stroke-width="0.4"/>
<circle cx="62" cy="125.2" r="1.6500000000000001" fill="#1b4679" stroke="#0d2c55" stroke-width="0.4"/>
<circle cx="66" cy="124.9" r="1.6500000000000001" fill="#1b4679" stroke="#0d2c55" stroke-width="0.4"/>
<circle cx="70" cy="125.2" r="1.6500000000000001" fill="#1b4679" stroke="#0d2c55" stroke-width="0.4"/>
<circle cx="74" cy="125" r="1.6500000000000001" fill="#1b4679" stroke="#0d2c55" stroke-width="0.4"/>
<circle cx="79.5" cy="125.5" r="1.6500000000000001" fill="#1b4679" stroke="#0d2c55" stroke-width="0.4"/>
<circle cx="58.8" cy="127.8" r="1.6500000000000001" fill="#1b4679" stroke="#0d2c55" stroke-width="0.4"/>
<circle cx="64" cy="127" r="1.6500000000000001" fill="#1b4679" stroke="#0d2c55" stroke-width="0.4"/>
<circle cx="67.3" cy="127.9" r="1.6500000000000001" fill="#1b4679" stroke="#0d2c55" stroke-width="0.4"/>
<circle cx="72" cy="127" r="1.6500000000000001" fill="#1b4679" stroke="#0d2c55" stroke-width="0.4"/>
<circle cx="76" cy="127.8" r="1.6500000000000001" fill="#1b4679" stroke="#0d2c55" stroke-width="0.4"/>
<circle cx="94.6" cy="61.6" r="1.6500000000000001" fill="#1b4679" stroke="#0d2c55" stroke-width="0.4"/>
<circle cx="96.9" cy="59.6" r="1.6500000000000001" fill="#1b4679" stroke="#0d2c55" stroke-width="0.4"/>
<circle cx="100.4" cy="58.3" r="1.6500000000000001" fill="#1b4679" stroke="#0d2c55" stroke-width="0.4"/>
<circle cx="98.7" cy="61.3" r="1.6500000000000001" fill="#1b4679" stroke="#0d2c55" stroke-width="0.4"/>
<circle cx="102.7" cy="61.3" r="1.6500000000000001" fill="#1b4679" stroke="#0d2c55" stroke-width="0.4"/>
<circle cx="104.4" cy="58.7" r="1.6500000000000001" fill="#1b4679" stroke="#0d2c55" stroke-width="0.4"/>
<circle cx="102.1" cy="63" r="1.6500000000000001" fill="#1b4679" stroke="#0d2c55" stroke-width="0.4"/>
<circle cx="107.3" cy="61.5" r="1.6500000000000001" fill="#1b4679" stroke="#0d2c55" stroke-width="0.4"/>
<circle cx="109" cy="58" r="1.6500000000000001" fill="#1b4679" stroke="#0d2c55" stroke-width="0.4"/>
<circle cx="108.5" cy="60" r="1.6500000000000001" fill="#1b4679" stroke="#0d2c55" stroke-width="0.4"/>
<circle cx="111.3" cy="62.8" r="1.6500000000000001" fill="#1b4679" stroke="#0d2c55" stroke-width="0.4"/>
<circle cx="114.8" cy="60.9" r="1.6500000000000001" fill="#1b4679" stroke="#0d2c55" stroke-width="0.4"/>
<circle cx="105.6" cy="62.8" r="1.6500000000000001" fill="#1b4679" stroke="#0d2c55" stroke-width="0.4"/>
<circle cx="104.7" cy="67.3" r="1.6500000000000001" fill="#1b4679" stroke="#0d2c55" stroke-width="0.4"/>
<circle cx="132" cy="124" r="1.8" fill="#3a9a40" stroke="#2a702e" stroke-width="0.4"/>
<circle cx="135" cy="126" r="1.8" fill="#3a9a40" stroke="#2a702e" stroke-width="0.4"/>
<circle cx="138" cy="124.5" r="1.8" fill="#3a9a40" stroke="#2a702e" stroke-width="0.4"/>
<circle cx="141" cy="123" r="1.8" fill="#3a9a40" stroke="#2a702e" stroke-width="0.4"/>
<circle cx="144" cy="124.5" r="1.8" fill="#3a9a40" stroke="#2a702e" stroke-width="0.4"/>
<circle cx="147" cy="123.5" r="1.8" fill="#3a9a40" stroke="#2a702e" stroke-width="0.4"/>
<circle cx="150" cy="125" r="1.8" fill="#3a9a40" stroke="#2a702e" stroke-width="0.4"/>
<circle cx="136" cy="128" r="1.8" fill="#3a9a40" stroke="#2a702e" stroke-width="0.4"/>
<circle cx="145" cy="127.5" r="1.8" fill="#3a9a40" stroke="#2a702e" stroke-width="0.4"/>
<circle cx="148" cy="127.8" r="1.8" fill="#3a9a40" stroke="#2a702e" stroke-width="0.4"/>
<circle cx="133" cy="122.5" r="1.8" fill="#3a9a40" stroke="#2a702e" stroke-width="0.4"/>
<circle cx="139" cy="127" r="1.8" fill="#3a9a40" stroke="#2a702e" stroke-width="0.4"/>
<circle cx="131.2" cy="126.8" r="1.8" fill="#b0112e" stroke="#7d0a20" stroke-width="0.4"/>
<circle cx="139.8" cy="127.4" r="1.8" fill="#b0112e" stroke="#7d0a20" stroke-width="0.4"/>
<circle cx="152.3" cy="123.7" r="1.8" fill="#f0bc2a" stroke="#b09030" stroke-width="0.4"/>
<circle cx="142.2" cy="126.8" r="1.8" fill="#f0bc2a" stroke="#b09030" stroke-width="0.4"/>
<circle cx="149.1" cy="126.5" r="1.8" fill="#3a9a40" stroke="#2a702e" stroke-width="0.4"/>
<circle cx="177.4" cy="76.8" r="1.8" fill="#3a9a40" stroke="#2a702e" stroke-width="0.4"/>
<circle cx="177.4" cy="82" r="1.8" fill="#3a9a40" stroke="#2a702e" stroke-width="0.4"/>
<circle cx="169.5" cy="82.9" r="1.8" fill="#3a9a40" stroke="#2a702e" stroke-width="0.4"/>
<circle cx="185.8" cy="82.9" r="1.8" fill="#3a9a40" stroke="#2a702e" stroke-width="0.4"/>
<circle cx="177.4" cy="92.9" r="1.8" fill="#3a9a40" stroke="#2a702e" stroke-width="0.4"/>
<circle cx="169.5" cy="100.1" r="1.8" fill="#b0112e" stroke="#7d0a20" stroke-width="0.4"/>
<circle cx="185.8" cy="98.3" r="1.8" fill="#f0bc2a" stroke="#b09030" stroke-width="0.4"/>
<circle cx="173.7" cy="103.7" r="1.8" fill="#f0bc2a" stroke="#b09030" stroke-width="0.4"/>
<circle cx="174.1" cy="106.8" r="1.8" fill="#b0112e" stroke="#7d0a20" stroke-width="0.4"/>
<circle cx="181.6" cy="105.6" r="1.8" fill="#3a9a40" stroke="#2a702e" stroke-width="0.4"/>
<circle cx="187.6" cy="106.8" r="1.8" fill="#3a9a40" stroke="#2a702e" stroke-width="0.4"/>
<circle cx="167.1" cy="108.9" r="1.8" fill="#3a9a40" stroke="#2a702e" stroke-width="0.4"/>
<circle cx="181" cy="108.9" r="1.8" fill="#3a9a40" stroke="#2a702e" stroke-width="0.4"/>
<circle cx="185.8" cy="111" r="1.8" fill="#3a9a40" stroke="#2a702e" stroke-width="0.4"/>
<circle cx="177.4" cy="115" r="1.8" fill="#b0112e" stroke="#7d0a20" stroke-width="0.4"/>
<circle cx="169.5" cy="117.6" r="1.8" fill="#3a9a40" stroke="#2a702e" stroke-width="0.4"/>
<circle cx="185.8" cy="117.6" r="1.8" fill="#3a9a40" stroke="#2a702e" stroke-width="0.4"/>
<circle cx="177.4" cy="122.5" r="1.8" fill="#3a9a40" stroke="#2a702e" stroke-width="0.4"/>
<circle cx="59.8" cy="309.2" r="1.6500000000000001" fill="#1b4679" stroke="#0d2c55" stroke-width="0.4"/>
<circle cx="63.8" cy="309.3" r="1.6500000000000001" fill="#1b4679" stroke="#0d2c55" stroke-width="0.4"/>
<circle cx="59" cy="311.3" r="1.6500000000000001" fill="#1b4679" stroke="#0d2c55" stroke-width="0.4"/>
<circle cx="62" cy="311.5" r="1.6500000000000001" fill="#1b4679" stroke="#0d2c55" stroke-width="0.4"/>
<circle cx="65" cy="311.2" r="1.6500000000000001" fill="#1b4679" stroke="#0d2c55" stroke-width="0.4"/>
<circle cx="68" cy="311.3" r="1.6500000000000001" fill="#1b4679" stroke="#0d2c55" stroke-width="0.4"/>
<circle cx="71" cy="311.2" r="1.6500000000000001" fill="#1b4679" stroke="#0d2c55" stroke-width="0.4"/>
<circle cx="74" cy="311.3" r="1.6500000000000001" fill="#1b4679" stroke="#0d2c55" stroke-width="0.4"/>
<circle cx="77" cy="311.2" r="1.6500000000000001" fill="#1b4679" stroke="#0d2c55" stroke-width="0.4"/>
<circle cx="79.2" cy="311.2" r="1.6500000000000001" fill="#1b4679" stroke="#0d2c55" stroke-width="0.4"/>
<circle cx="66.5" cy="310.3" r="1.6500000000000001" fill="#1b4679" stroke="#0d2c55" stroke-width="0.4"/>
<circle cx="70" cy="310.6" r="1.6500000000000001" fill="#1b4679" stroke="#0d2c55" stroke-width="0.4"/>
<circle cx="73.5" cy="310.4" r="1.6500000000000001" fill="#1b4679" stroke="#0d2c55" stroke-width="0.4"/>
<circle cx="76.5" cy="310.5" r="1.6500000000000001" fill="#1b4679" stroke="#0d2c55" stroke-width="0.4"/>
<circle cx="94.4" cy="270.9" r="1.6500000000000001" fill="#1b4679" stroke="#0d2c55" stroke-width="0.4"/>
<circle cx="101.4" cy="267.8" r="1.6500000000000001" fill="#1b4679" stroke="#0d2c55" stroke-width="0.4"/>
<circle cx="108.5" cy="268.4" r="1.6500000000000001" fill="#1b4679" stroke="#0d2c55" stroke-width="0.4"/>
<circle cx="115.2" cy="268.2" r="1.6500000000000001" fill="#1b4679" stroke="#0d2c55" stroke-width="0.4"/>
<circle cx="104.9" cy="275.2" r="1.6500000000000001" fill="#1b4679" stroke="#0d2c55" stroke-width="0.4"/>
<circle cx="104.9" cy="284.3" r="1.6500000000000001" fill="#1b4679" stroke="#0d2c55" stroke-width="0.4"/>
<circle cx="94.7" cy="290.2" r="1.6500000000000001" fill="#1b4679" stroke="#0d2c55" stroke-width="0.4"/>
<circle cx="101.4" cy="290.2" r="1.6500000000000001" fill="#1b4679" stroke="#0d2c55" stroke-width="0.4"/>
<circle cx="108.5" cy="290.2" r="1.6500000000000001" fill="#1b4679" stroke="#0d2c55" stroke-width="0.4"/>
<circle cx="115.2" cy="290.2" r="1.6500000000000001" fill="#1b4679" stroke="#0d2c55" stroke-width="0.4"/>
<circle cx="97.1" cy="296" r="1.6500000000000001" fill="#1b4679" stroke="#0d2c55" stroke-width="0.4"/>
<circle cx="104.9" cy="296" r="1.6500000000000001" fill="#1b4679" stroke="#0d2c55" stroke-width="0.4"/>
<circle cx="113" cy="296" r="1.6500000000000001" fill="#1b4679" stroke="#0d2c55" stroke-width="0.4"/>
<circle cx="104.9" cy="300.7" r="1.6500000000000001" fill="#1b4679" stroke="#0d2c55" stroke-width="0.4"/>
<circle cx="132.5" cy="310" r="1.8" fill="#3a9a40" stroke="#2a702e" stroke-width="0.4"/>
<circle cx="135.5" cy="309.8" r="1.8" fill="#3a9a40" stroke="#2a702e" stroke-width="0.4"/>
<circle cx="138.5" cy="311" r="1.8" fill="#3a9a40" stroke="#2a702e" stroke-width="0.4"/>
<circle cx="141.5" cy="311.2" r="1.8" fill="#3a9a40" stroke="#2a702e" stroke-width="0.4"/>
<circle cx="144.5" cy="310.5" r="1.8" fill="#3a9a40" stroke="#2a702e" stroke-width="0.4"/>
<circle cx="147.5" cy="310" r="1.8" fill="#3a9a40" stroke="#2a702e" stroke-width="0.4"/>
<circle cx="134" cy="311.5" r="1.8" fill="#3a9a40" stroke="#2a702e" stroke-width="0.4"/>
<circle cx="140" cy="311.5" r="1.8" fill="#3a9a40" stroke="#2a702e" stroke-width="0.4"/>
<circle cx="146" cy="311.5" r="1.8" fill="#3a9a40" stroke="#2a702e" stroke-width="0.4"/>
<circle cx="149" cy="311" r="1.8" fill="#3a9a40" stroke="#2a702e" stroke-width="0.4"/>
<circle cx="151.3" cy="311" r="2.05" fill="#141414"/>
<circle cx="152.1" cy="310.8" r="0.55" fill="#ccc"/>
<circle cx="181.7" cy="244.9" r="1.8" fill="#3a9a40" stroke="#2a702e" stroke-width="0.4"/>
<circle cx="167.7" cy="253.5" r="1.8" fill="#3a9a40" stroke="#2a702e" stroke-width="0.4"/>
<circle cx="174.1" cy="253.1" r="1.8" fill="#3a9a40" stroke="#2a702e" stroke-width="0.4"/>
<circle cx="180.6" cy="252.7" r="1.8" fill="#3a9a40" stroke="#2a702e" stroke-width="0.4"/>
<circle cx="187.8" cy="252.4" r="1.8" fill="#3a9a40" stroke="#2a702e" stroke-width="0.4"/>
<circle cx="166.8" cy="257.8" r="1.8" fill="#f0bc2a" stroke="#b09030" stroke-width="0.4"/>
<circle cx="171.7" cy="256.5" r="1.8" fill="#3a9a40" stroke="#2a702e" stroke-width="0.4"/>
<circle cx="175.4" cy="258.1" r="1.8" fill="#3a9a40" stroke="#2a702e" stroke-width="0.4"/>
<circle cx="187.8" cy="257.6" r="1.8" fill="#b0112e" stroke="#7d0a20" stroke-width="0.4"/>
<circle cx="177.6" cy="263.5" r="1.8" fill="#f0bc2a" stroke="#b09030" stroke-width="0.4"/>
<circle cx="169" cy="266.2" r="1.8" fill="#3a9a40" stroke="#2a702e" stroke-width="0.4"/>
<circle cx="185.6" cy="265.5" r="1.8" fill="#3a9a40" stroke="#2a702e" stroke-width="0.4"/>
<circle cx="177.6" cy="270.5" r="1.8" fill="#3a9a40" stroke="#2a702e" stroke-width="0.4"/>
<circle cx="177.6" cy="279" r="1.8" fill="#3a9a40" stroke="#2a702e" stroke-width="0.4"/>
<circle cx="185.6" cy="280" r="1.8" fill="#3a9a40" stroke="#2a702e" stroke-width="0.4"/>
<circle cx="181.3" cy="285.4" r="1.8" fill="#b0112e" stroke="#7d0a20" stroke-width="0.4"/>
<circle cx="177.6" cy="296.7" r="1.8" fill="#b0112e" stroke="#7d0a20" stroke-width="0.4"/>
<circle cx="270.5" cy="95.9" r="1.8" fill="#3a9a40" stroke="#2a702e" stroke-width="0.4"/>
<circle cx="274.9" cy="95.9" r="1.8" fill="#b0112e" stroke="#7d0a20" stroke-width="0.4"/>
<circle cx="279.5" cy="95.9" r="1.8" fill="#3a9a40" stroke="#2a702e" stroke-width="0.4"/>
<circle cx="273.8" cy="107.6" r="1.8" fill="#3a9a40" stroke="#2a702e" stroke-width="0.4"/>
<circle cx="282.2" cy="104.9" r="1.8" fill="#3a9a40" stroke="#2a702e" stroke-width="0.4"/>
<circle cx="265.1" cy="114.7" r="1.8" fill="#3a9a40" stroke="#2a702e" stroke-width="0.4"/>
<circle cx="284.8" cy="114.7" r="1.8" fill="#3a9a40" stroke="#2a702e" stroke-width="0.4"/>
<circle cx="287.7" cy="114.7" r="1.8" fill="#f0bc2a" stroke="#b09030" stroke-width="0.4"/>
<circle cx="295" cy="109.8" r="1.8" fill="#f0bc2a" stroke="#b09030" stroke-width="0.4"/>
<circle cx="340.2" cy="90.8" r="1.8" fill="#3a9a40" stroke="#2a702e" stroke-width="0.4"/>
<circle cx="330.3" cy="100.2" r="1.8" fill="#3a9a40" stroke="#2a702e" stroke-width="0.4"/>
<circle cx="328.1" cy="102.8" r="1.8" fill="#b0112e" stroke="#7d0a20" stroke-width="0.4"/>
<circle cx="342" cy="104.9" r="1.8" fill="#3a9a40" stroke="#2a702e" stroke-width="0.4"/>
<circle cx="314.4" cy="110.2" r="1.8" fill="#3a9a40" stroke="#2a702e" stroke-width="0.4"/>
<circle cx="316" cy="109.8" r="1.8" fill="#3a9a40" stroke="#2a702e" stroke-width="0.4"/>
<circle cx="313.7" cy="112.3" r="1.8" fill="#3a9a40" stroke="#2a702e" stroke-width="0.4"/>
<circle cx="339.7" cy="121.7" r="1.8" fill="#b0112e" stroke="#7d0a20" stroke-width="0.4"/>
<circle cx="274.9" cy="277.8" r="1.8" fill="#b0112e" stroke="#7d0a20" stroke-width="0.4"/>
<circle cx="288.9" cy="284.8" r="1.8" fill="#b0112e" stroke="#7d0a20" stroke-width="0.4"/>
<circle cx="296" cy="277.8" r="1.8" fill="#3a9a40" stroke="#2a702e" stroke-width="0.4"/>
<circle cx="301" cy="289.5" r="1.8" fill="#3a9a40" stroke="#2a702e" stroke-width="0.4"/>
<circle cx="313.7" cy="273.1" r="1.8" fill="#3a9a40" stroke="#2a702e" stroke-width="0.4"/>
<circle cx="307.8" cy="282.3" r="1.8" fill="#3a9a40" stroke="#2a702e" stroke-width="0.4"/>
<circle cx="312.8" cy="287.3" r="1.8" fill="#3a9a40" stroke="#2a702e" stroke-width="0.4"/>
<circle cx="313.8" cy="291.8" r="1.8" fill="#3a9a40" stroke="#2a702e" stroke-width="0.4"/>
<circle cx="315.8" cy="291.5" r="1.8" fill="#f0bc2a" stroke="#b09030" stroke-width="0.4"/>
<circle cx="323.1" cy="291.8" r="1.8" fill="#3a9a40" stroke="#2a702e" stroke-width="0.4"/>
<circle cx="328.1" cy="292.4" r="1.8" fill="#3a9a40" stroke="#2a702e" stroke-width="0.4"/>
<circle cx="328.1" cy="294.2" r="1.8" fill="#3a9a40" stroke="#2a702e" stroke-width="0.4"/>
<circle cx="323" cy="296.7" r="1.8" fill="#f0bc2a" stroke="#b09030" stroke-width="0.4"/>
<circle cx="337.5" cy="296.7" r="1.8" fill="#3a9a40" stroke="#2a702e" stroke-width="0.4"/>
<circle cx="339.3" cy="287.2" r="1.8" fill="#3a9a40" stroke="#2a702e" stroke-width="0.4"/>
<circle cx="323.8" cy="303.7" r="1.8" fill="#b0112e" stroke="#7d0a20" stroke-width="0.4"/>
<circle cx="430.5" cy="65.3" r="1.8" fill="#b0112e" stroke="#7d0a20" stroke-width="0.4"/>
<circle cx="483.9" cy="50.2" r="1.8" fill="#b0112e" stroke="#7d0a20" stroke-width="0.4"/>
<circle cx="496" cy="65.6" r="1.8" fill="#3a9a40" stroke="#2a702e" stroke-width="0.4"/>
<circle cx="429.5" cy="96.4" r="1.8" fill="#3a9a40" stroke="#2a702e" stroke-width="0.4"/>
<circle cx="435.3" cy="96.4" r="1.8" fill="#3a9a40" stroke="#2a702e" stroke-width="0.4"/>
<circle cx="450.7" cy="96.4" r="1.8" fill="#f0bc2a" stroke="#b09030" stroke-width="0.4"/>
<circle cx="485.6" cy="96.4" r="1.8" fill="#3a9a40" stroke="#2a702e" stroke-width="0.4"/>
<circle cx="426.4" cy="111.7" r="1.8" fill="#3a9a40" stroke="#2a702e" stroke-width="0.4"/>
<circle cx="437.6" cy="111.7" r="1.8" fill="#3a9a40" stroke="#2a702e" stroke-width="0.4"/>
<circle cx="443.3" cy="111.7" r="1.8" fill="#f0bc2a" stroke="#b09030" stroke-width="0.4"/>
<circle cx="471.8" cy="111.7" r="1.8" fill="#3a9a40" stroke="#2a702e" stroke-width="0.4"/>
<circle cx="498" cy="111.7" r="1.8" fill="#3a9a40" stroke="#2a702e" stroke-width="0.4"/>
<circle cx="421" cy="127.3" r="1.8" fill="#3a9a40" stroke="#2a702e" stroke-width="0.4"/>
<circle cx="441.2" cy="127.3" r="1.8" fill="#3a9a40" stroke="#2a702e" stroke-width="0.4"/>
<circle cx="469.6" cy="127.3" r="1.8" fill="#3a9a40" stroke="#2a702e" stroke-width="0.4"/>
<circle cx="495.3" cy="127.1" r="1.8" fill="#b0112e" stroke="#7d0a20" stroke-width="0.4"/>
<circle cx="444.9" cy="232.4" r="1.8" fill="#b0112e" stroke="#7d0a20" stroke-width="0.4"/>
<circle cx="430.6" cy="247.8" r="1.8" fill="#b0112e" stroke="#7d0a20" stroke-width="0.4"/>
<circle cx="470" cy="247.8" r="1.8" fill="#3a9a40" stroke="#2a702e" stroke-width="0.4"/>
<circle cx="451.3" cy="278.3" r="1.8" fill="#3a9a40" stroke="#2a702e" stroke-width="0.4"/>
<circle cx="457.4" cy="278.3" r="1.8" fill="#3a9a40" stroke="#2a702e" stroke-width="0.4"/>
<circle cx="463.4" cy="278.3" r="1.8" fill="#3a9a40" stroke="#2a702e" stroke-width="0.4"/>
<circle cx="472.2" cy="278.3" r="1.8" fill="#f0bc2a" stroke="#b09030" stroke-width="0.4"/>
<circle cx="469" cy="293.7" r="1.8" fill="#3a9a40" stroke="#2a702e" stroke-width="0.4"/>
<circle cx="452.7" cy="293.7" r="1.8" fill="#3a9a40" stroke="#2a702e" stroke-width="0.4"/>
<circle cx="478.3" cy="293.7" r="1.8" fill="#f0bc2a" stroke="#b09030" stroke-width="0.4"/>
<circle cx="483.1" cy="293.7" r="1.8" fill="#3a9a40" stroke="#2a702e" stroke-width="0.4"/>
<circle cx="495.2" cy="293.7" r="1.8" fill="#3a9a40" stroke="#2a702e" stroke-width="0.4"/>
<circle cx="469.8" cy="309.2" r="1.8" fill="#3a9a40" stroke="#2a702e" stroke-width="0.4"/>
<circle cx="479.5" cy="309.2" r="1.8" fill="#3a9a40" stroke="#2a702e" stroke-width="0.4"/>
<circle cx="484.8" cy="309.2" r="1.8" fill="#3a9a40" stroke="#2a702e" stroke-width="0.4"/>
<circle cx="491.6" cy="309.2" r="1.8" fill="#3a9a40" stroke="#2a702e" stroke-width="0.4"/>
<circle cx="212.2" cy="362" r="2.8" fill="#b0112e" stroke="#7d0a20" stroke-width="0.4"/>
<circle cx="248.4" cy="362" r="2.8" fill="#f0bc2a" stroke="#b09030" stroke-width="0.4"/>
<circle cx="294.8" cy="362" r="2.8" fill="#3a9a40" stroke="#2a702e" stroke-width="0.4"/>
<line x1="274.7" y1="269.4" x2="339.2" y2="297.5" stroke="#262626" stroke-width="0.95"/>
<line x1="430.6" y1="247.8" x2="495.1" y2="313.3" stroke="#262626" stroke-width="0.95"/>
</svg>
</body></html>
